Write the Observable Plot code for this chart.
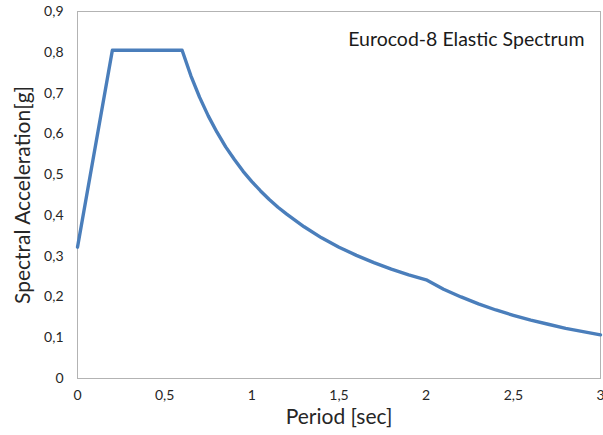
<!DOCTYPE html>
<html>
<head>
<meta charset="utf-8">
<script src="https://cdn.jsdelivr.net/npm/d3@7"></script>
<script src="https://cdn.jsdelivr.net/npm/@observablehq/plot@0.6"></script>
<style>
  html, body { margin: 0; padding: 0; background: #fff; }
  #chart { width: 603px; height: 435px; }
</style>
</head>
<body>
<div id="chart"></div>
<script>
const periods = [0, 0.2, 0.6, 0.65, 0.7, 0.75, 0.8, 0.85, 0.9, 0.95, 1.0, 1.05, 1.1, 1.15, 1.2, 1.3, 1.4,
                 1.5, 1.6, 1.7, 1.8, 1.9, 2.0, 2.1, 2.2, 2.3, 2.4, 2.5, 2.6, 2.7, 2.8, 2.9, 3.0];
const accel = [0.322, 0.805, 0.805, 0.743, 0.690, 0.644, 0.604, 0.568, 0.537, 0.508, 0.483, 0.460,
               0.439, 0.420, 0.403, 0.372, 0.345, 0.322, 0.302, 0.284, 0.268, 0.254, 0.242, 0.219,
               0.200, 0.183, 0.168, 0.155, 0.143, 0.133, 0.123, 0.115, 0.107];
const xTicks = [0, 0.5, 1, 1.5, 2, 2.5, 3];
const yTicks = [0, 0.1, 0.2, 0.3, 0.4, 0.5, 0.6, 0.7, 0.8, 0.9];
const titleText = ["Eurocod-8 Elastic Spectrum"];

const data = periods.map((t, i) => ({T: t, Sa: accel[i]}));
const fmt = d => String(+(+d).toFixed(1)).replace(".", ",");

const chart = Plot.plot({
  width: 603,
  height: 435,
  marginLeft: 77,
  marginTop: 11,
  marginRight: 3,
  marginBottom: 57,
  style: {fontFamily: "Lato, 'Open Sans', sans-serif", fontSize: "14px", color: "#262626", background: "#fff"},
  x: {domain: [0, 3]},
  y: {domain: [0, 0.9]},
  marks: [
    Plot.frame({stroke: "#b3b3b3", strokeWidth: 1}),
    Plot.axisX({ticks: xTicks, tickFormat: fmt, tickSize: 0, tickPadding: 12,
                label: "Period [sec]", labelAnchor: "center", labelArrow: "none",
                labelOffset: 45, fontSize: 14}),
    Plot.axisY({ticks: yTicks, tickFormat: fmt, tickSize: 0, tickPadding: 14,
                label: "Spectral Acceleration[g]", labelAnchor: "center", labelArrow: "none",
                labelOffset: 62, fontSize: 14}),
    Plot.line(data, {x: "T", y: "Sa", stroke: "#4a7ebb", strokeWidth: 3.4, strokeLinejoin: "round"}),
    Plot.text(titleText, {text: d => d, frameAnchor: "top-right", dx: -16, dy: 21,
                          fontSize: 19.5, fill: "#1a1a1a"})
  ]
});

chart.querySelectorAll("[aria-label='x-axis label'] text, [aria-label='y-axis label'] text")
  .forEach(t => t.setAttribute("font-size", "21px"));
document.getElementById("chart").appendChild(chart);
</script>
</body>
</html>
